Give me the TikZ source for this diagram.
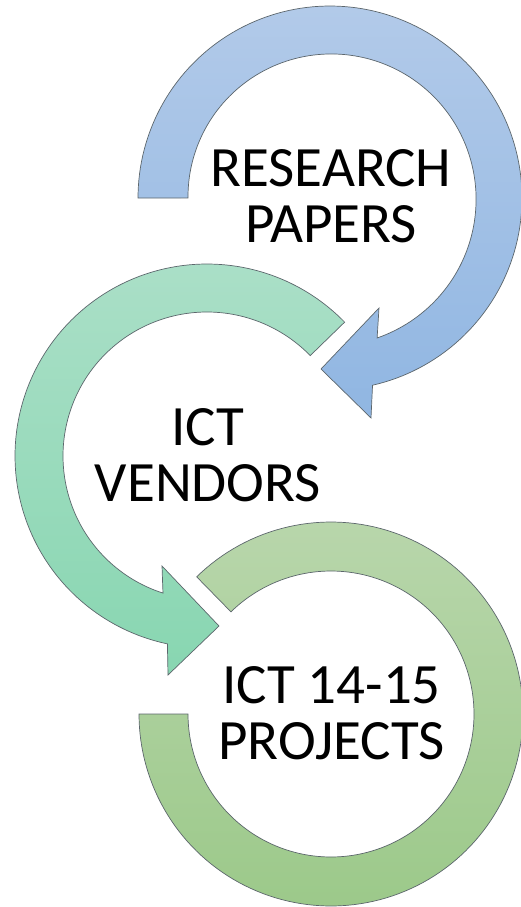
\documentclass[tikz,border=0pt]{standalone}
\usepackage{fontspec}
\setmainfont{Carlito}
\definecolor{edgegray}{RGB}{92,102,108}
\definecolor{blueTop}{RGB}{178,202,233}
\definecolor{blueBot}{RGB}{144,182,226}
\definecolor{tealTop}{RGB}{170,223,199}
\definecolor{tealBot}{RGB}{136,214,177}
\definecolor{greenTop}{RGB}{184,214,171}
\definecolor{greenBot}{RGB}{156,201,138}
\begin{document}
\begin{tikzpicture}[x=1pt,y=-1pt,
  ringline/.style={draw=edgegray, line width=0.7pt, line join=miter},
  bluefill/.style={top color=blueTop, bottom color=blueBot},
  tealfill/.style={top color=tealTop, bottom color=tealBot},
  greenfill/.style={top color=greenTop, bottom color=greenBot},
  ringtext/.style={font=\fontsize{57}{56}\selectfont, align=center, inner sep=0pt, text=black}]
\useasboundingbox (0,0) rectangle (520,907);

% upper circular arrow (clockwise, head pointing down-left)
\path[ringline, bluefill]
  plot[domain=180:-77.2, samples=140] ({330+192*cos(\x)}, {198-192*sin(\x)})
  -- (371,418) -- (321,369) -- (379,308)
  -- plot[domain=-71.4:180, samples=140]
     ({330+(142+(180-\x)*0.02267)*cos(\x)}, {198-(142+(180-\x)*0.02267)*sin(\x)})
  -- cycle;

% middle circular arrow (counter-clockwise, head pointing down-right)
\path[ringline, tealfill]
  plot[domain=44.2:258.1, samples=140] ({207+192*cos(\x)}, {456-192*sin(\x)})
  -- (168,675) -- (219,626) -- (162,566)
  -- plot[domain=252.2:44.2, samples=140] ({207+144*cos(\x)}, {456-144*sin(\x)})
  -- cycle;

% lower open ring
\path[ringline, greenfill]
  plot[domain=180:494.4, samples=160] ({331+192*cos(\x)}, {714-192*sin(\x)})
  -- plot[domain=494.4:180, samples=160] ({331+143*cos(\x)}, {714-143*sin(\x)})
  -- cycle;

\node[ringtext] (research) at (331,196) {RESEARCH\\PAPERS};
\node[ringtext] (vendors) at (208,455) {ICT\\VENDORS};
\node[ringtext] (projects) at (331.5,713.5) {ICT 14-15\\PROJECTS};
\end{tikzpicture}
\end{document}
